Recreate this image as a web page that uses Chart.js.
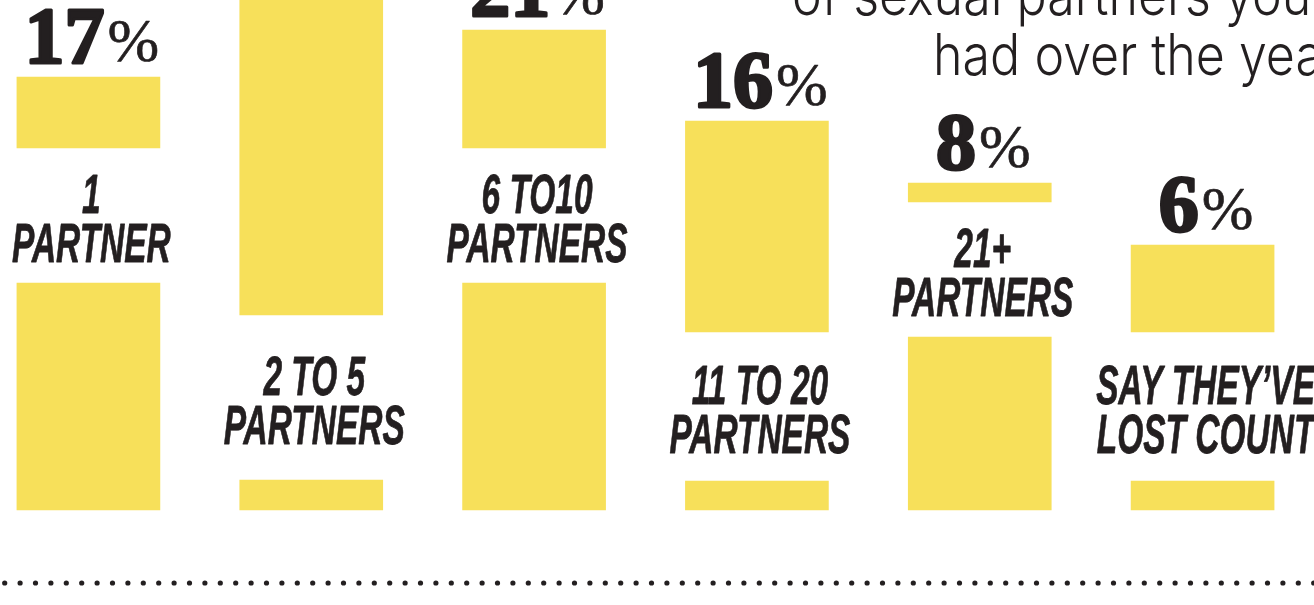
<!DOCTYPE html>
<html><head><meta charset="utf-8">
<script src="https://cdn.jsdelivr.net/npm/chart.js@4.4.1/dist/chart.umd.min.js"></script>
<style>
html,body{margin:0;padding:0;background:#fff;overflow:hidden;width:1314px;height:605px;position:relative;}
#wrap{position:absolute;left:-23px;top:0;width:1337px;height:605px;}
</style></head><body>
<div id="wrap"><canvas id="c" width="1337" height="605"></canvas></div>
<script>
// ---- data ----
const labelLine1 = ["1", "2 TO 5", "6 TO10", "11 TO 20", "21+", "SAY THEY\u2019VE"];
const labelLine2 = ["PARTNER", "PARTNERS", "PARTNERS", "PARTNERS", "PARTNERS", "LOST COUNT"];
const percents   = [17, 32, 21, 16, 8, 6];
// upper block [start, end] and lower block [0, end], in graphic units above the baseline
const upperStart = [362, 195, 362, 178, 308, 178];
const upperEnd   = [433, 560, 480, 389, 327, 265];
const lowerEnd   = [227, 30, 227, 29, 173, 29];
const titleLines = ["of sexual partners you\u2019ve", "had over the years"];

const YELLOW = '#f7e05a';
const INK = '#231f20';
const SHIFT = 23; // canvas starts 23px left of the page

function txt(ctx, s, x, y, font, sx, align, stroke) {
  ctx.save();
  ctx.font = font;
  ctx.translate(x, y);
  ctx.scale(sx, 1);
  ctx.textAlign = align || 'left';
  ctx.textBaseline = 'alphabetic';
  ctx.fillText(s, 0, 0);
  if (stroke) { ctx.lineWidth = stroke; ctx.strokeStyle = INK; ctx.lineJoin = 'round'; ctx.strokeText(s, 0, 0); }
  ctx.restore();
}

const deco = {
  id: 'deco',
  afterDatasetsDraw(chart) {
    const ctx = chart.ctx, ys = chart.scales.y;
    const meta = chart.getDatasetMeta(0);
    ctx.save();
    ctx.fillStyle = INK;

    // title (cut off at top/right like the original)
    const tf = '300 57px Inter, "Open Sans", sans-serif';
    txt(ctx, titleLines[0], 792 + SHIFT, 15, tf, 0.88, 'left');
    txt(ctx, titleLines[1], 933 + SHIFT, 75, tf, 0.88, 'left');

    // category label font, condensed
    const lf = 'italic bold 56px "Liberation Sans Narrow", "Liberation Sans", sans-serif';
    ctx.font = lf;
    const lsx = 181 / ctx.measureText('PARTNERS').width;

    meta.data.forEach((bar, i) => {
      const cx = bar.x;
      // percentage
      const py = ys.getPixelForValue(upperEnd[i]) - 13;
      const numStr = String(percents[i]);
      const nf = 'bold 80px "Liberation Serif", "DejaVu Serif", serif';
      const pf = '400 62px "Liberation Serif", "DejaVu Serif", serif';
      ctx.font = nf; const nw = ctx.measureText(numStr).width;
      ctx.font = pf; const pw = ctx.measureText('%').width;
      const total = nw + 4 + pw;
      const sx0 = cx + 3 - total / 2;
      txt(ctx, numStr, sx0 + 1, py - 1, nf, 1, 'left', 3);
      txt(ctx, '%', sx0 + nw + 4, py - 3, pf, 1, 'left', 0.6);

      // category label centred in the gap
      const gc = (ys.getPixelForValue(upperStart[i]) + ys.getPixelForValue(lowerEnd[i])) / 2;
      txt(ctx, labelLine1[i], cx + 3, gc - 3, lf, lsx, 'center', 0.8);
      txt(ctx, labelLine2[i], cx + 3, gc + 46, lf, lsx, 'center', 0.8);
    });

    // dotted rule
    for (let x = 4.7; x < 1316; x += 15.4) {
      ctx.beginPath();
      ctx.arc(x + SHIFT, 583, 2.6, 0, Math.PI * 2);
      ctx.fill();
    }
    ctx.restore();
  }
};

function render() {
  new Chart(document.getElementById('c'), {
    type: 'bar',
    data: {
      labels: labelLine2.map((l, i) => labelLine1[i] + ' ' + l),
      datasets: [
        { data: upperStart.map((s, i) => [s, upperEnd[i]]), backgroundColor: YELLOW, grouped: false, barThickness: 143, borderWidth: 0 },
        { data: lowerEnd.map(e => [0, e]), backgroundColor: YELLOW, grouped: false, barThickness: 143, borderWidth: 0 }
      ]
    },
    options: {
      responsive: false, animation: false, events: [],
      layout: { padding: 0 },
      plugins: { legend: { display: false }, tooltip: { enabled: false } },
      scales: {
        x: { display: false, offset: true, grid: { display: false } },
        y: { display: false, min: -95, max: 510, grid: { display: false } }
      }
    },
    plugins: [deco]
  });
}
const loads = ['300 57px Inter', 'italic bold 56px "Liberation Sans"', 'bold 80px "Liberation Serif"', '62px "Liberation Serif"']
  .map(f => document.fonts.load(f).catch(() => null));
Promise.all(loads).then(render, render);
</script>
</body></html>
